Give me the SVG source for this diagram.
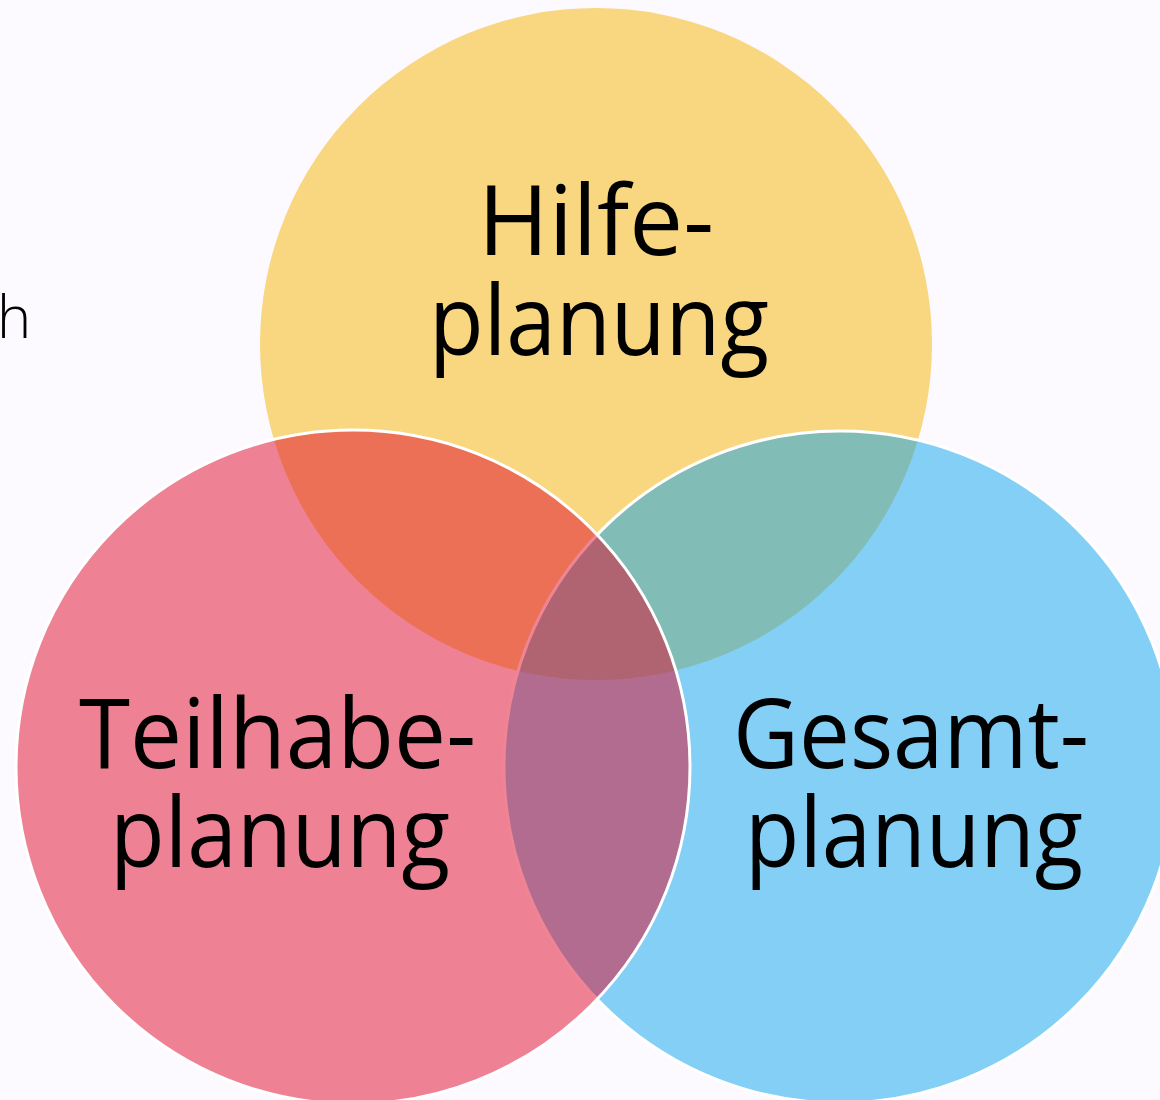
<svg xmlns="http://www.w3.org/2000/svg" width="1160" height="1100" viewBox="0 0 1160 1100">
  <style>
    .lbl { font-family: "Open Sans", "Noto Sans", "DejaVu Sans", sans-serif; font-size: 97px; fill: #000; text-anchor: middle; }
    .ring { stroke: #ffffff; stroke-width: 3; }
  </style>
  <rect x="0" y="0" width="1160" height="1100" fill="#fcfaff"/>
  <text x="-3" y="338" style="font-family: 'Open Sans', 'Noto Sans', sans-serif; font-size: 58px; font-weight: 300; fill: #000;">h</text>
  <g id="hilfeplanung">
    <circle cx="596" cy="344" r="336" fill="#f9d780"/>
    <text class="lbl" x="596" y="255" textLength="236" lengthAdjust="spacingAndGlyphs">Hilfe-</text>
    <text class="lbl" x="599" y="355" textLength="340" lengthAdjust="spacingAndGlyphs">planung</text>
  </g>
  <g id="gesamtplanung">
    <circle class="ring" cx="840" cy="767" r="336" fill="rgb(10,164,235)" fill-opacity="0.5"/>
    <text class="lbl" x="911" y="768" textLength="356" lengthAdjust="spacingAndGlyphs">Gesamt-</text>
    <text class="lbl" x="914" y="867" textLength="338" lengthAdjust="spacingAndGlyphs">planung</text>
  </g>
  <g id="teilhabeplanung">
    <circle class="ring" cx="353" cy="767" r="337" fill="rgb(224,10,41)" fill-opacity="0.5"/>
    <text class="lbl" x="277.5" y="768" textLength="397" lengthAdjust="spacingAndGlyphs">Teilhabe-</text>
    <text class="lbl" x="280" y="867" textLength="340" lengthAdjust="spacingAndGlyphs">planung</text>
  </g>
  <g id="connectors"/>
</svg>
